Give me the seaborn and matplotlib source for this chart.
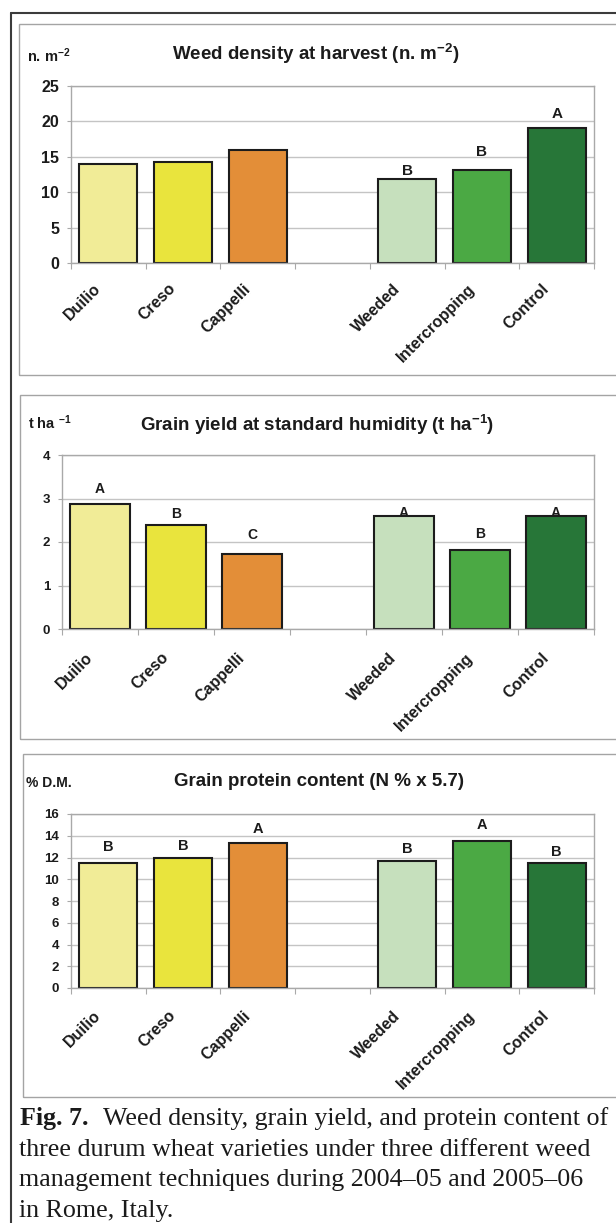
import numpy as np
import pandas as pd
import matplotlib
matplotlib.use("Agg")
import matplotlib.pyplot as plt
from matplotlib.patches import Rectangle
from matplotlib.lines import Line2D
from matplotlib.ticker import FixedLocator
from matplotlib.transforms import ScaledTranslation
import seaborn as sns

# ---- data -------------------------------------------------------------
categories = ["Duilio", "Creso", "Cappelli", "Weeded", "Intercropping", "Control"]
slot_order = ["Duilio", "Creso", "Cappelli", " ", "Weeded", "Intercropping", "Control"]

weed_density = [14.0, 14.3, 16.0, 11.9, 13.2, 19.1]      # n. m-2
grain_yield = [2.87, 2.38, 1.73, 2.59, 1.81, 2.59]       # t ha-1
protein = [11.5, 12.0, 13.3, 11.7, 13.5, 11.5]           # % D.M.

weed_letters = ["", "", "", "B", "B", "A"]
yield_letters = ["A", "B", "C", "A", "B", "A"]
protein_letters = ["B", "B", "A", "B", "A", "B"]

weed_ticks = [0, 5, 10, 15, 20, 25]
yield_ticks = [0, 1, 2, 3, 4]
protein_ticks = [0, 2, 4, 6, 8, 10, 12, 14, 16]

palette = {
    "Duilio": "#F1EC97",
    "Creso": "#E9E43D",
    "Cappelli": "#E38E38",
    "Weeded": "#C6E0BD",
    "Intercropping": "#4BA944",
    "Control": "#277638",
}

# ---- figure setup -------------------------------------------------------
W, H = 616, 1223
sns.set_style("white")
plt.rcParams["font.family"] = ["Liberation Sans", "DejaVu Sans"]
plt.rcParams["mathtext.default"] = "regular"

fig = plt.figure(figsize=(W / 100, H / 100), dpi=100)
fig.patch.set_facecolor("white")

TXT = "#1b1b1b"
GRID = "#c4c4c4"
AXC = "#a9a9a9"


def fx(x):
    return x / W


def fy(y):
    return 1 - y / H


def axes_at(left, top, right, bottom):
    return fig.add_axes([fx(left), fy(bottom), (right - left) / W, (bottom - top) / H])


def panel_box(left, top, bottom):
    fig.patches.append(Rectangle((fx(left), fy(bottom)), 1.2, (bottom - top) / H,
                                 transform=fig.transFigure, fill=False,
                                 edgecolor="#a4a4a4", linewidth=1.0, zorder=0))


def draw_panel(ax, values, letters, ticks, ytick_size, letter_size, gaps, label_drop):
    df = pd.DataFrame({"treatment": categories, "value": values})
    sns.barplot(data=df, x="treatment", y="value", hue="treatment",
                order=slot_order, hue_order=categories, palette=palette,
                width=0.78, errorbar=None, legend=False, ax=ax,
                edgecolor="#1c1c1c", linewidth=1.5, saturation=1)
    ax.set_ylim(ticks[0], ticks[-1])
    ax.set_xlim(-0.5, len(slot_order) - 0.5)
    ax.set_yticks(ticks)
    ax.set_yticklabels([str(t) for t in ticks], fontsize=ytick_size,
                       fontweight="bold", color=TXT)
    ax.set_xlabel("")
    ax.set_ylabel("")
    ax.yaxis.grid(True, color=GRID, linewidth=1.0)
    ax.set_axisbelow(True)
    for s in ax.spines.values():
        s.set_color(AXC)
        s.set_linewidth(1.0)
    ax.tick_params(axis="y", which="major", direction="out", length=3,
                   width=0.8, color=AXC, pad=5.5, left=True)
    # category labels, slanted, ending just left of each slot centre
    ax.set_xticks(range(len(slot_order)))
    ax.set_xticklabels(slot_order, rotation=45, ha="right",
                       rotation_mode="anchor", fontsize=11.5,
                       fontweight="bold", color=TXT)
    ax.tick_params(axis="x", which="major", length=0, pad=0)
    shift = ScaledTranslation(-15 / 100, -label_drop / 100, fig.dpi_scale_trans)
    for lab in ax.get_xticklabels():
        lab.set_transform(lab.get_transform() + shift)
    # boundary tick marks between categories
    ax.xaxis.set_minor_locator(FixedLocator(np.arange(-0.5, len(slot_order), 1.0)))
    ax.tick_params(axis="x", which="minor", direction="out", length=4,
                   width=0.8, color=AXC, bottom=True)
    # significance letters
    xpos = [slot_order.index(c) for c in categories]
    for x, v, lab, g in zip(xpos, values, letters, gaps):
        if lab:
            ax.annotate(lab, xy=(x, v), xytext=(0, g * 0.72),
                        textcoords="offset points", ha="center", va="baseline",
                        fontsize=letter_size, fontweight="bold", color=TXT)


# ---- outer frame --------------------------------------------------------
fig.add_artist(Line2D([fx(10.5), fx(10.5)], [fy(12.5), fy(H + 5)],
                      transform=fig.transFigure, color="#3b3b3b", linewidth=1.5))
fig.add_artist(Line2D([fx(10.5), fx(W + 5)], [fy(12.5), fy(12.5)],
                      transform=fig.transFigure, color="#3b3b3b", linewidth=1.5))

# ---- panel 1: weed density ------------------------------------------------
panel_box(19, 24, 375)
ax1 = axes_at(71, 86, 594, 263)
draw_panel(ax1, weed_density, weed_letters, weed_ticks, 11.5, 11,
           [0, 0, 0, 4, 14, 10], 18)
fig.text(fx(316), fy(54), "Weed density at harvest (n. m$^{-2}$)", ha="center",
         va="center", fontsize=13.5, fontweight="bold", color=TXT)
fig.text(fx(27), fy(56), "n. m$^{-2}$", ha="left", va="center",
         fontsize=10.5, fontweight="bold", color=TXT)

# ---- panel 2: grain yield ---------------------------------------------------
panel_box(20, 395, 739)
ax2 = axes_at(62, 455, 594, 629)
draw_panel(ax2, grain_yield, yield_letters, yield_ticks, 9.5, 10,
           [11, 7, 15, -1, 12, -1], 21)
fig.text(fx(317), fy(425), "Grain yield at standard humidity (t ha$^{-1}$)",
         ha="center", va="center", fontsize=13.5, fontweight="bold", color=TXT)
fig.text(fx(28), fy(423), "t ha $^{-1}$", ha="left", va="center",
         fontsize=10.5, fontweight="bold", color=TXT)

# ---- panel 3: grain protein ---------------------------------------------------
panel_box(22.5, 754, 1097)
ax3 = axes_at(71, 814, 594, 988)
draw_panel(ax3, protein, protein_letters, protein_ticks, 9.5, 10.5,
           [12, 7, 10, 8, 12, 7], 20)
fig.text(fx(319), fy(781), "Grain protein content (N % x 5.7)", ha="center",
         va="center", fontsize=13.5, fontweight="bold", color=TXT)
fig.text(fx(26), fy(783), "% D.M.", ha="left", va="center",
         fontsize=10, fontweight="bold", color=TXT)

# ---- caption ------------------------------------------------------------------
serif = ["Liberation Serif", "DejaVu Serif"]
cap_size = 18.7
fig.text(fx(20), fy(1125), "Fig. 7.", family=serif, fontsize=cap_size,
         fontweight="bold", color="#1a1a1a", va="baseline", ha="left")
fig.text(fx(103), fy(1125), "Weed density, grain yield, and protein content of",
         family=serif, fontsize=cap_size, color="#1a1a1a", va="baseline", ha="left")
caption_lines = [
    "three durum wheat varieties under three different weed",
    "management techniques during 2004\u201305 and 2005\u201306",
    "in Rome, Italy.",
]
for i, line in enumerate(caption_lines):
    fig.text(fx(19), fy(1155.5 + 30.5 * i), line, family=serif, fontsize=cap_size,
             color="#1a1a1a", va="baseline", ha="left")

fig.savefig("out.png", dpi=100, facecolor="white")
